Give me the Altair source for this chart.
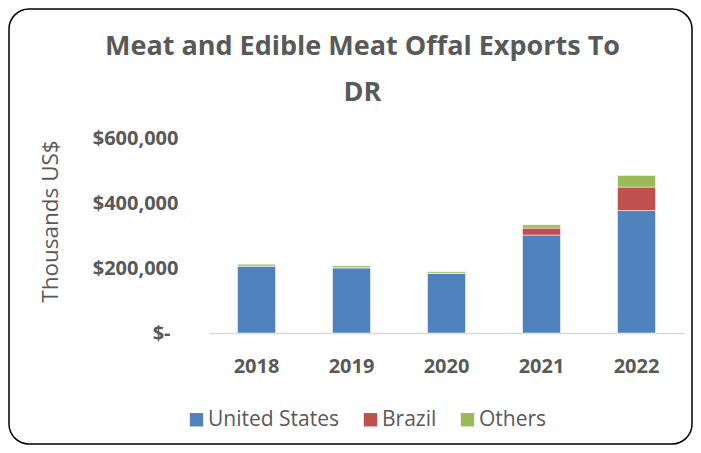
import altair as alt
import pandas as pd

years = ["2018", "2019", "2020", "2021", "2022"]
series = ["United States", "Brazil", "Others"]
united_states = [205800, 200600, 183200, 301400, 376800]
brazil = [500, 500, 300, 21300, 72100]
others = [5600, 5600, 5000, 10100, 35700]
colors = ["#4F81BD", "#C0504D", "#9BBB59"]
y_ticks = [0, 200000, 400000, 600000]

rows = []
for i, y in enumerate(years):
    for k, (name, vals) in enumerate(zip(series, [united_states, brazil, others])):
        rows.append({"year": y, "series": name, "value": vals[i], "idx": k})
df = pd.DataFrame(rows)

grey = "#595959"
font = "Open Sans"

bars = alt.Chart(df).mark_bar(stroke="white", strokeWidth=1, strokeOpacity=0.5).encode(
    x=alt.X("year:N", sort=years, title=None,
            scale=alt.Scale(paddingInner=0.6, paddingOuter=0.3),
            axis=alt.Axis(labelAngle=0, labelFont=font, labelFontSize=20, labelFontWeight="bold",
                          labelColor=grey, labelPadding=23, ticks=False,
                          domainColor="#D9D9D9", domainWidth=1.5)),
    y=alt.Y("value:Q", stack="zero", title="Thousands US$",
            scale=alt.Scale(domain=[0, 600000], nice=False),
            axis=alt.Axis(values=y_ticks, grid=False, domain=False, ticks=False,
                          labelExpr="datum.value == 0 ? '$-' : '$' + format(datum.value, ',')",
                          labelFont=font, labelFontSize=20, labelFontWeight="bold", labelColor=grey,
                          labelPadding={"condition": {"test": "datum.value == 0", "value": 39}, "value": 31},
                          titleFont=font, titleFontSize=22.5, titleFontWeight="normal",
                          titleColor=grey, titlePadding=30, titleY=83, titleAlign="center")),
    color=alt.Color("series:N", sort=series,
                    scale=alt.Scale(domain=series, range=colors),
                    legend=alt.Legend(title=None, orient="none", direction="horizontal",
                                      legendX=-23, legendY=271, symbolType="square",
                                      symbolSize=180, symbolStrokeWidth=0, labelOffset=1,
                                      columnPadding=20, labelFont=font, labelFontSize=21,
                                      labelColor=grey, padding=0)),
    order=alt.Order("idx:Q", sort="ascending"),
)

border = alt.Chart(pd.DataFrame({"a": [0]})).mark_rect(
    fill=None, stroke="black", strokeWidth=1.5, cornerRadius=20
).encode(x=alt.value(-200), x2=alt.value(483), y=alt.value(-129), y2=alt.value(306))

chart = alt.layer(bars, border).properties(
    width=475, height=195,
    title=alt.TitleParams(text=["Meat and Edible Meat Offal Exports To", "DR"],
                          font=font, fontSize=27, fontWeight="bold", color=grey,
                          anchor="middle", dx=-84, lineHeight=46, offset=-99),
    autosize=alt.AutoSizeParams(type="none"),
    padding={"left": 201, "top": 130, "right": 9, "bottom": 113},
).configure_view(stroke=None)

chart.save("out.html", embed_options={"renderer": "svg", "actions": False})
